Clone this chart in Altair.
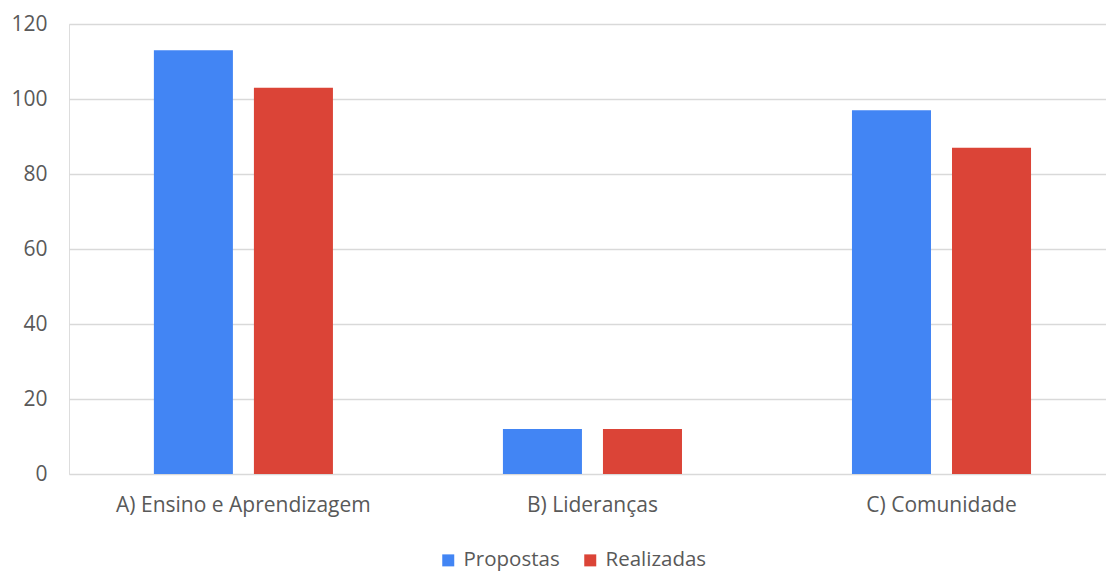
import altair as alt
import pandas as pd

categories = ["A) Ensino e Aprendizagem", "B) Lideranças", "C) Comunidade"]
series = ["Propostas", "Realizadas"]
propostas = [113, 12, 97]
realizadas = [103, 12, 87]
colors = ["#4285F4", "#DB4437"]

rows = []
for c, p, r in zip(categories, propostas, realizadas):
    rows.append({"cat": c, "serie": series[0], "valor": p})
    rows.append({"cat": c, "serie": series[1], "valor": r})
df = pd.DataFrame(rows)

FONT = "Open Sans"

chart = alt.Chart(df).mark_bar().encode(
    x=alt.X("cat:N", sort=categories, title=None,
            scale=alt.Scale(paddingInner=0.487, paddingOuter=0.229, align=0.531),
            axis=alt.Axis(labelAngle=0, labelFontSize=21, labelColor="#595959",
                          labelFont=FONT, labelPadding=20, labelLimit=0,
                          domain=False, ticks=False, grid=False)),
    xOffset=alt.XOffset("serie:N", sort=series,
                        scale=alt.Scale(paddingInner=0.21, paddingOuter=0)),
    y=alt.Y("valor:Q", title=None,
            scale=alt.Scale(domain=[0, 120], nice=False),
            axis=alt.Axis(values=[0, 20, 40, 60, 80, 100, 120], labelFontSize=21,
                          labelColor="#595959", labelFont=FONT, labelPadding=22,
                          domain=False, ticks=False, gridColor="#d9d9d9",
                          gridWidth=1.5)),
    color=alt.Color("serie:N", sort=series, title=None,
                    scale=alt.Scale(domain=series, range=colors),
                    legend=alt.Legend(orient="none", legendX=369, legendY=526,
                                      direction="horizontal", symbolType="square",
                                      symbolSize=144, symbolStrokeWidth=0,
                                      labelFontSize=20.5, labelColor="#595959",
                                      labelFont=FONT, columnPadding=20,
                                      labelOffset=5)),
).properties(
    width=1037, height=450,
    autosize=alt.AutoSizeParams(type="none"),
    padding={"left": 69, "top": 24, "right": 0, "bottom": 97},
).configure_view(stroke=None).configure(background="white")

chart.save("out.html", embed_options={"renderer": "svg", "actions": False})
